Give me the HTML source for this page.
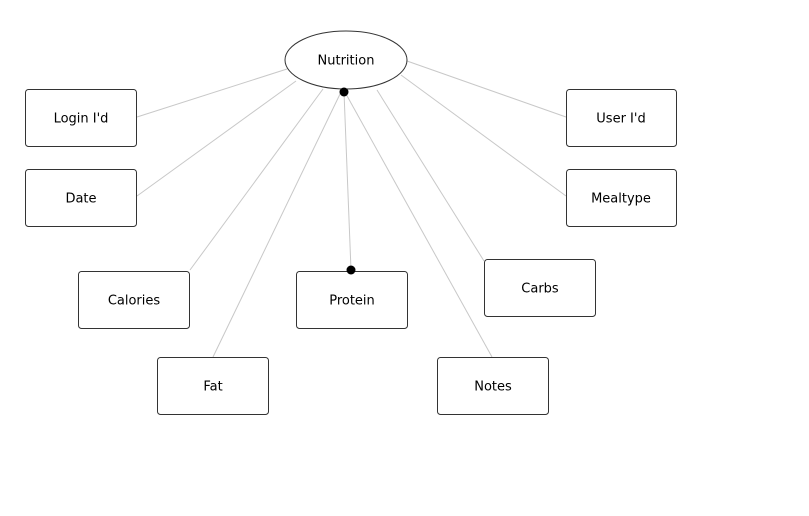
<!DOCTYPE html>
<html><head><meta charset="utf-8"><style>
html,body{margin:0;padding:0;background:#fff;}
svg{display:block;}
text{font-family:"DejaVu Sans","Liberation Sans",sans-serif;font-size:13px;fill:#000;text-anchor:middle;dominant-baseline:central;}
rect{fill:#fff;stroke:#333;stroke-width:1;}
line{stroke:#c8c8c8;stroke-width:1;}
</style></head><body>
<svg width="809" height="516" viewBox="0 0 809 516">
<line x1="137" y1="117" x2="287" y2="69"/>
<line x1="137" y1="196" x2="296" y2="81"/>
<line x1="190" y1="270" x2="323" y2="89"/>
<line x1="213" y1="357" x2="341" y2="92"/>
<line x1="344" y1="92" x2="351" y2="270"/>
<line x1="492" y1="357" x2="346" y2="94"/>
<line x1="484" y1="261" x2="377" y2="90"/>
<line x1="566" y1="117" x2="407" y2="61"/>
<line x1="566" y1="196" x2="401" y2="75"/>
<ellipse cx="346" cy="60" rx="61" ry="29" fill="#fff" stroke="#333"/>
<text x="346" y="61">Nutrition</text>
<circle cx="344" cy="92" r="4.5" fill="#000"/>
<rect x="25.5" y="89.5" width="111" height="57" rx="3"/><text x="81" y="119">Login I'd</text>
<rect x="25.5" y="169.5" width="111" height="57" rx="3"/><text x="81" y="199">Date</text>
<rect x="78.5" y="271.5" width="111" height="57" rx="3"/><text x="134" y="301">Calories</text>
<rect x="157.5" y="357.5" width="111" height="57" rx="3"/><text x="213" y="387">Fat</text>
<rect x="296.5" y="271.5" width="111" height="57" rx="3"/><text x="352" y="301">Protein</text>
<rect x="437.5" y="357.5" width="111" height="57" rx="3"/><text x="493" y="387">Notes</text>
<rect x="484.5" y="259.5" width="111" height="57" rx="3"/><text x="540" y="289">Carbs</text>
<rect x="566.5" y="89.5" width="110" height="57" rx="3"/><text x="621" y="119">User I'd</text>
<rect x="566.5" y="169.5" width="110" height="57" rx="3"/><text x="621" y="199">Mealtype</text>
<circle cx="351" cy="270" r="4.5" fill="#000"/>
</svg>
</body></html>
